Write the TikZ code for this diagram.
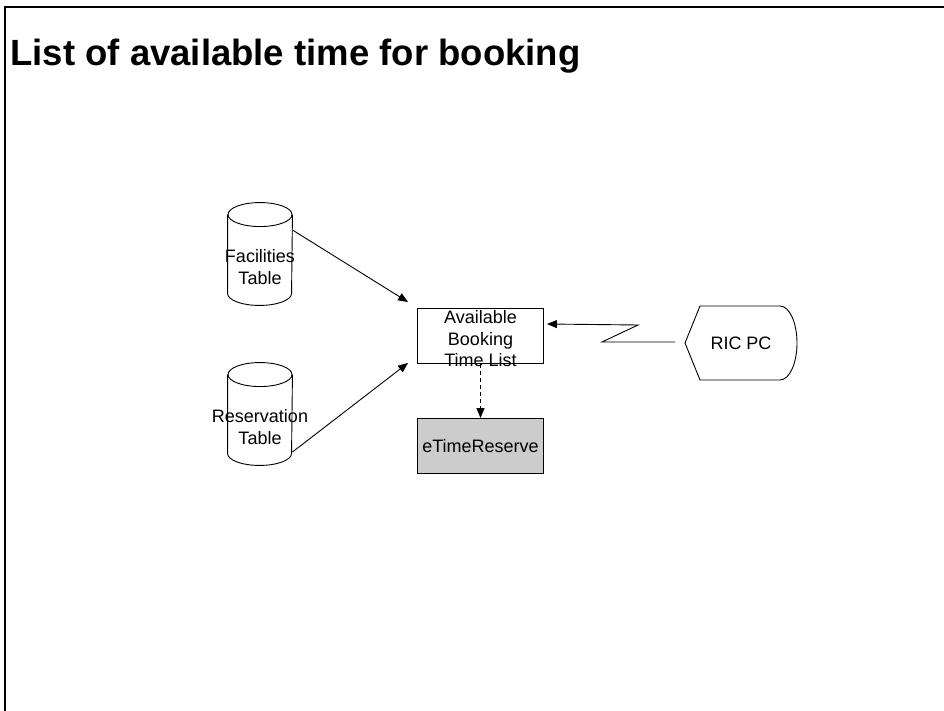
\documentclass[tikz,border=0pt]{standalone}
\usepackage{fontspec}
\setmainfont{Liberation Sans}
\usetikzlibrary{arrows.meta,positioning,shapes.geometric,calc}
\usepackage{xcolor}
\definecolor{boxgray}{HTML}{CCCCCC}
\tikzset{
  txt/.style={font=\fontsize{18}{21.5}\selectfont, align=center, inner sep=0pt},
  dbtable/.style={minimum width=64, minimum height=102, inner sep=0pt},
  procbox/.style={draw, fill=white, minimum width=126, minimum height=55, inner sep=0pt},
  graybox/.style={procbox, fill=boxgray},
  arrow/.style={-{Triangle[length=10pt, width=8pt]}},
  dashline/.style={dash pattern=on 4pt off 3pt}
}
% cylinder outline round a named table node
\newcommand{\dbcylinder}[1]{%
  \draw ([yshift=-12]#1.north west) -- ([yshift=12]#1.south west)
    arc[start angle=180, end angle=360, x radius=32, y radius=12]
    -- ([yshift=-12]#1.north east);
  \draw ([yshift=-12]#1.north) ellipse[x radius=32, y radius=12];}
\begin{document}
\begin{tikzpicture}[x=1pt, y=1pt, line width=0.9pt]
  \useasboundingbox (0,0) rectangle (944,710);
  \draw[line width=2pt] (5,-1) -- (5,703) -- (945,703);
  \node[anchor=base west, inner sep=0pt, font=\bfseries\fontsize{36.5}{41}\selectfont] (title) at (10,644) {List of available time for booking};
  % tables
  \node[dbtable] (factab) at (260,456) {};
  \dbcylinder{factab}
  \node[txt] at (260,443) {Facilities\\Table};
  \node[dbtable] (restab) at (260,296) {};
  \dbcylinder{restab}
  \node[txt] at (260,283) {Reservation\\Table};
  % list and result
  \node[procbox, label={[txt, yshift=-3]center:Available\\Booking\\Time List}] (avail) at (480.5,374) {};
  \node[graybox, txt, minimum width=126, minimum height=55] (etr) at (480.5,264) {eTimeReserve};
  % terminal
  \draw (700,404) -- (780,404) arc[start angle=90, end angle=-90, x radius=17, y radius=37] -- (700,330) -- (685,367) -- cycle;
  \coordinate (rictip) at (685,368);
  \node[txt] (ricpc) at (741,367) {RIC PC};
  % connectors
  \draw[arrow] ($(factab.east)+(0,24)$) -- ($(avail.north west)+(-9,6)$);
  \draw[arrow] ($(restab.east)+(0,-38)$) -- ($(avail.south west)+(-9,1)$);
  \draw[arrow, dashline] (avail.south) -- (etr.north);
  \draw[arrow] ($(rictip)+(-10,0)$) -- ++(-73,0) -- ++(36,17) -- ($(avail.east |- 0,386)+(3,0)$);
\end{tikzpicture}
\end{document}
